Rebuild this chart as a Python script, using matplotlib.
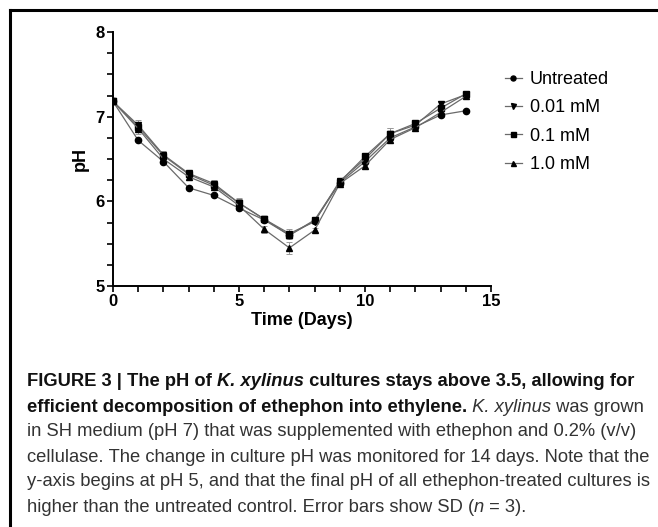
import matplotlib
matplotlib.use("Agg")
from matplotlib import pyplot as plt
from matplotlib import font_manager
from matplotlib.lines import Line2D
from matplotlib.ticker import MultipleLocator

# data
days = list(range(15))
untreated = [7.18, 6.72, 6.47, 6.16, 6.07, 5.92, 5.78, 5.60, 5.77, 6.22, 6.47, 6.75, 6.88, 7.02, 7.07]
mm_001 = [7.18, 6.90, 6.55, 6.33, 6.21, 5.98, 5.79, 5.62, 5.76, 6.24, 6.50, 6.80, 6.90, 7.15, 7.26]
mm_01 = [7.18, 6.88, 6.54, 6.32, 6.19, 5.98, 5.79, 5.60, 5.78, 6.23, 6.53, 6.80, 6.92, 7.10, 7.27]
mm_10 = [7.18, 6.86, 6.50, 6.29, 6.17, 5.95, 5.67, 5.45, 5.66, 6.21, 6.42, 6.73, 6.87, 7.05, 7.24]
sd_untreated = [0.01, 0.01, 0.02, 0.02, 0.01, 0.02, 0.01, 0.02, 0.02, 0.02, 0.02, 0.02, 0.02, 0.02, 0.01]
sd_001 = [0.01, 0.06, 0.05, 0.03, 0.04, 0.06, 0.03, 0.05, 0.03, 0.04, 0.04, 0.07, 0.03, 0.03, 0.03]
sd_01 = [0.01, 0.05, 0.04, 0.03, 0.03, 0.05, 0.02, 0.04, 0.03, 0.04, 0.04, 0.07, 0.03, 0.04, 0.02]
sd_10 = [0.01, 0.07, 0.05, 0.04, 0.04, 0.04, 0.04, 0.07, 0.02, 0.03, 0.04, 0.04, 0.04, 0.04, 0.03]

series = [
    ("Untreated", untreated, sd_untreated, "o"),
    ("0.01 mM", mm_001, sd_001, "v"),
    ("0.1 mM", mm_01, sd_01, "s"),
    ("1.0 mM", mm_10, sd_10, "^"),
]

caption = [
    [("FIGURE 3 | The pH of ", "bold", "normal"), ("K. xylinus", "bold", "italic"),
     (" cultures stays above 3.5, allowing for", "bold", "normal")],
    [("efficient decomposition of ethephon into ethylene.", "bold", "normal"),
     (" K. xylinus", "normal", "italic"), (" was grown", "normal", "normal")],
    [("in SH medium (pH 7) that was supplemented with ethephon and 0.2% (v/v)", "normal", "normal")],
    [("cellulase. The change in culture pH was monitored for 14 days. Note that the", "normal", "normal")],
    [("y-axis begins at pH 5, and that the final pH of all ethephon-treated cultures is", "normal", "normal")],
    [("higher than the untreated control. Error bars show SD (", "normal", "normal"),
     ("n", "normal", "italic"), (" = 3).", "normal", "normal")],
]

names = set(f.name for f in font_manager.fontManager.ttflist)
cap_font = "Liberation Sans Narrow" if "Liberation Sans Narrow" in names else "Liberation Sans"
plt.rcParams["font.family"] = ["Liberation Sans", "DejaVu Sans"]

W, H = 658, 527
fig = plt.figure(figsize=(W / 100, H / 100), dpi=100)
ax = fig.add_axes([113 / W, 1 - 286 / H, 378 / W, 254 / H])

for label, vals, sd, mk in series:
    ax.errorbar(days, vals, yerr=sd, color="#6a6a6a", lw=0.9, elinewidth=0.7,
                capsize=2.5, capthick=0.7, ecolor="#9a9a9a", marker=mk, ms=4.5,
                mfc="black", mec="black", label=label, zorder=3)

ax.set_xlim(0, 15)
ax.set_ylim(5, 8)
ax.xaxis.set_major_locator(MultipleLocator(5))
ax.xaxis.set_minor_locator(MultipleLocator(1))
ax.yaxis.set_major_locator(MultipleLocator(1))
ax.yaxis.set_minor_locator(MultipleLocator(0.25))
for s in ["top", "right"]:
    ax.spines[s].set_visible(False)
for s in ["left", "bottom"]:
    ax.spines[s].set_linewidth(1.4)
ax.tick_params(which="both", direction="out", width=1.2, color="black")
ax.tick_params(which="major", length=4, labelsize=12, pad=2)
ax.tick_params(which="minor", length=4)
for t in ax.get_xticklabels() + ax.get_yticklabels():
    t.set_fontweight("bold")
ax.set_xlabel("Time (Days)", fontsize=13, fontweight="bold", labelpad=2)
ax.set_ylabel("pH", fontsize=13, fontweight="bold", labelpad=5)

handles, labels = ax.get_legend_handles_labels()
handles = [h[0] for h in handles]
fig.legend(handles, labels, loc="upper left", bbox_to_anchor=(489 / W, 1 - 55 / H),
           frameon=False, fontsize=13, handlelength=0.9, handletextpad=0.45,
           labelspacing=0.62, markerscale=0.8)

# frame lines (top and left only)
fig.add_artist(Line2D([10 / W, 1], [1 - 10 / H, 1 - 10 / H], color="black", lw=2.2))
fig.add_artist(Line2D([10 / W, 10 / W], [0, 1 - 10 / H], color="black", lw=2.2))

# caption, sized to the reference line widths
renderer = fig.canvas.get_renderer()


def seg_width(txt, weight, style, size):
    t = fig.text(0, 0, txt.replace(" ", "\u00a0"), family=[cap_font, "DejaVu Sans"],
                 fontweight=weight, fontstyle=style, fontsize=size)
    w = t.get_window_extent(renderer).width
    t.remove()
    return w


bold_size = 11 * 611 / sum(seg_width(s, w, st, 11) for s, w, st in caption[0])
reg_size = 11 * 624 / seg_width(caption[3][0][0], "normal", "normal", 11)

baselines = [386.5, 411.5, 436.5, 461.5, 486.5, 511.5]
for line, yb in zip(caption, baselines):
    x = 27
    for txt, weight, style in line:
        size = bold_size if weight == "bold" else reg_size
        fig.text(x / W, 1 - yb / H, txt.replace(" ", "\u00a0"), family=[cap_font, "DejaVu Sans"],
                 fontweight=weight, fontstyle=style, fontsize=size, va="baseline",
                 color="#111111" if weight == "bold" else "#333333")
        x += seg_width(txt, weight, style, size)

fig.savefig("out.png", dpi=100)
